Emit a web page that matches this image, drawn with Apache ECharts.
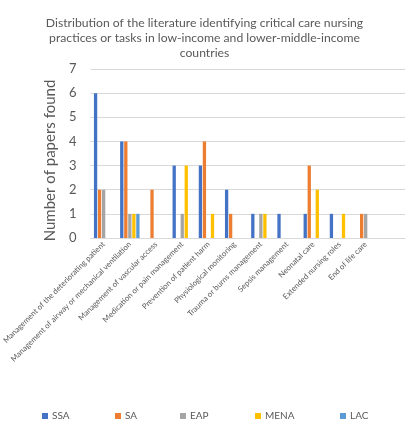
<!DOCTYPE html>
<html><head><meta charset="utf-8">
<script src="https://cdn.jsdelivr.net/npm/echarts@6/dist/echarts.min.js"></script>
<style>html,body{margin:0;padding:0;background:#fff}#c{width:409px;height:440px}</style>
</head><body><div id="c"></div>
<script>
const categories = [
  'Management of the deteriorating patient',
  'Management of airway or mechanical ventilation',
  'Management of vascular access',
  'Medication or pain management',
  'Prevention of patient harm',
  'Physiological monitoring',
  'Trauma or burns management',
  'Sepsis management',
  'Neonatal care',
  'Extended nursing roles',
  'End of life care',
  ''
];
const seriesNames = ['SSA', 'SA', 'EAP', 'MENA', 'LAC'];
const SSA  = [6, 4, 0, 3, 3, 2, 1, 1, 1, 1, 0, 0];
const SA   = [2, 4, 2, 0, 4, 1, 0, 0, 3, 0, 1, 0];
const EAP  = [2, 1, 0, 1, 0, 0, 1, 0, 0, 0, 1, 0];
const MENA = [0, 1, 0, 3, 1, 0, 1, 0, 2, 1, 0, 0];
const LAC  = [0, 1, 0, 0, 0, 0, 0, 0, 0, 0, 0, 0];
const yTicks = [0, 1, 2, 3, 4, 5, 6, 7];
const colors = ['#4472C4', '#ED7D31', '#A5A5A5', '#FFC000', '#5B9BD5'];
const values = [SSA, SA, EAP, MENA, LAC];
const FONT = 'Lato';
const TXT = '#595959';

const chart = echarts.init(document.getElementById('c'), null, {renderer: 'canvas'});
const legendLefts = [42, 115, 180, 255, 340];
chart.setOption({
  animation: false,
  color: colors,
  title: {
    text: 'Distribution of the literature identifying critical care nursing\npractices or tasks in low-income and lower-middle-income\ncountries',
    left: 'center', top: 11,
    textStyle: {fontFamily: FONT, fontSize: 12.2, fontWeight: 'normal', color: TXT, lineHeight: 15}
  },
  legend: seriesNames.map((n, i) => ({
    data: [n], left: legendLefts[i], top: 411,
    itemWidth: 6, itemHeight: 6, icon: 'rect', itemGap: 4,
    textStyle: {fontFamily: FONT, fontSize: 10, color: TXT, padding: [0, 0, 0, -1]},
    padding: 0
  })),
  grid: {left: 87, right: 4, top: 69, bottom: 202, containLabel: false},
  xAxis: {
    type: 'category', data: categories,
    axisLine: {lineStyle: {color: '#D9D9D9'}},
    axisTick: {show: false},
    axisLabel: {interval: 0, rotate: 45, fontFamily: FONT, fontSize: 7.8, color: TXT, margin: 5}
  },
  yAxis: {
    type: 'value', min: yTicks[0], max: yTicks[yTicks.length - 1], interval: 1,
    name: 'Number of papers found', nameLocation: 'middle', nameGap: 20, nameRotate: 90,
    nameTextStyle: {fontFamily: FONT, fontSize: 15, color: TXT, padding: [0, 14, 0, 0]},
    axisLine: {show: false}, axisTick: {show: false},
    splitLine: {lineStyle: {color: '#D9D9D9', width: 1}},
    axisLabel: {fontFamily: FONT, fontSize: 13, color: TXT, margin: 14}
  },
  series: seriesNames.map((n, i) => ({
    name: n, type: 'bar', data: values[i],
    barWidth: 3.3, barGap: '22%',
    itemStyle: {color: colors[i]}
  }))
});
</script></body></html>
